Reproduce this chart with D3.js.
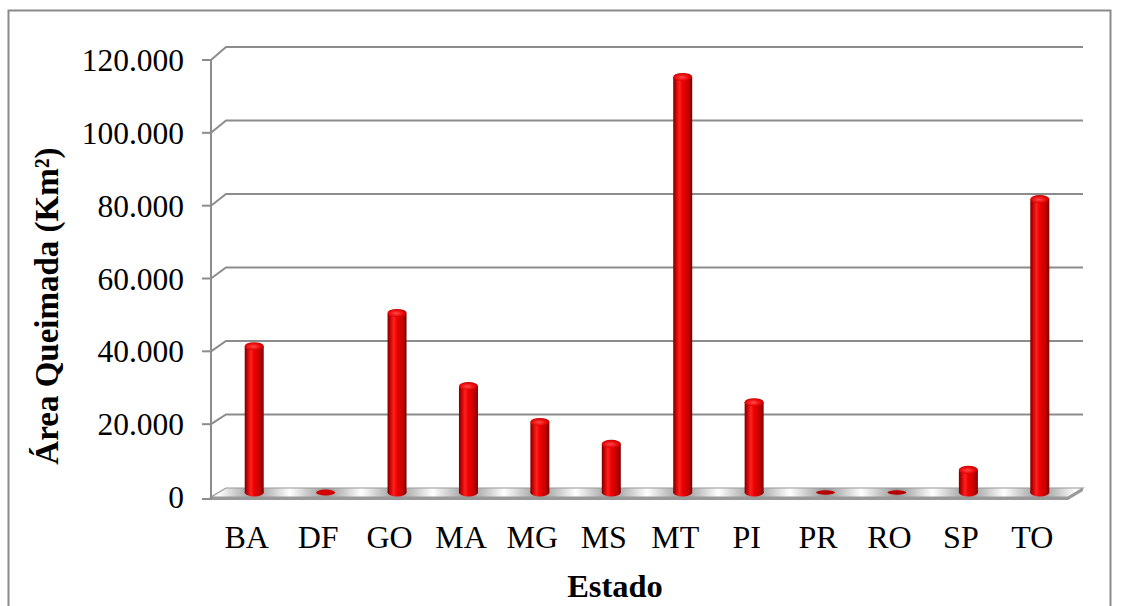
<!DOCTYPE html>
<html>
<head>
<meta charset="utf-8">
<script src="https://cdn.jsdelivr.net/npm/d3@7"></script>
<style>
  html, body { margin: 0; padding: 0; background: #fff; }
  svg { display: block; }
  text { font-family: "Liberation Serif", "Times New Roman", serif; fill: #000; }
</style>
</head>
<body>
<svg id="chart" width="1121" height="606"></svg>
<script>
// Burned area per state (km²)
const categories = ["BA", "DF", "GO", "MA", "MG", "MS", "MT", "PI", "PR", "RO", "SP", "TO"];
const areaKm2 = [40000, 600, 49100, 29100, 19300, 13300, 113600, 24700, 150, 150, 6200, 80200];
const yTicks = [0, 20000, 40000, 60000, 80000, 100000, 120000];
const yTitle = "Área Queimada (Km²)";
const xTitle = "Estado";

const ptBR = d3.formatLocale({ decimal: ",", thousands: ".", grouping: [3], currency: ["R$", ""] });
const fmt = ptBR.format(",d");

const svg = d3.select("#chart");
const defs = svg.append("defs");

// Outer chart frame
svg.append("rect")
  .attr("x", 8.5).attr("y", 10.5).attr("width", 1102).attr("height", 620)
  .attr("fill", "none").attr("stroke", "#8a8a8a").attr("stroke-width", 2);

// Pseudo-3D geometry: front plane and back wall
const depthX = 15;
const x = d3.scaleBand().domain(categories).range([211, 1068]).paddingInner(0).paddingOuter(0);
const yFront = d3.scaleLinear().domain([0, 120000]).range([497, 60]);
const yBack = d3.scaleLinear().domain([0, 120000]).range([488, 47]);
const yMid = v => (yFront(v) + yBack(v)) / 2;
const xLeft = x.range()[0], xRight = x.range()[1];

// Gridlines on the back wall with the diagonal run to the front axis
const grid = svg.append("g");
yTicks.filter(v => v > 0).forEach(v => {
  grid.append("polyline")
    .attr("points", [[xLeft, yFront(v)], [xLeft + depthX, yBack(v)], [xRight + depthX, yBack(v)]].map(p => p.join(",")).join(" "))
    .attr("fill", "none").attr("stroke", "#8c8c8c").attr("stroke-width", 2);
});

// Floor with a metallic sheen between the columns
const step = x.step();
const floorGrad = defs.append("linearGradient")
  .attr("id", "floorSheen").attr("gradientUnits", "userSpaceOnUse")
  .attr("spreadMethod", "repeat")
  .attr("x1", x(categories[0]) + step / 2 + depthX / 2).attr("y1", 0)
  .attr("x2", x(categories[0]) + step * 1.5 + depthX / 2).attr("y2", 0);
[[0, "#969696"], [0.25, "#c8c8c8"], [0.5, "#ffffff"], [0.75, "#c8c8c8"], [1, "#969696"]]
  .forEach(([o, c]) => floorGrad.append("stop").attr("offset", o).attr("stop-color", c));

const f0 = yFront(0), b0 = yBack(0), thick = 3;
svg.append("polygon")
  .attr("points", [[xLeft, f0], [xRight, f0], [xRight, f0 + thick], [xLeft, f0 + thick]].map(p => p.join(",")).join(" "))
  .attr("fill", "#999");
svg.append("polygon")
  .attr("points", [[xRight, f0], [xRight + depthX, b0], [xRight + depthX, b0 + thick], [xRight, f0 + thick]].map(p => p.join(",")).join(" "))
  .attr("fill", "#999");
svg.append("polygon")
  .attr("points", [[xLeft + depthX, b0], [xRight + depthX, b0], [xRight, f0], [xLeft, f0]].map(p => p.join(",")).join(" "))
  .attr("fill", "url(#floorSheen)").attr("stroke", "#999").attr("stroke-width", 1.2);

// Front vertical axis with ticks
svg.append("line")
  .attr("x1", xLeft).attr("x2", xLeft).attr("y1", yFront(120000)).attr("y2", f0 + 2)
  .attr("stroke", "#8c8c8c").attr("stroke-width", 2);
yTicks.forEach(v => {
  const yy = v === 0 ? f0 + 2 : yFront(v);
  svg.append("line").attr("x1", xLeft - 9).attr("x2", xLeft).attr("y1", yy).attr("y2", yy)
    .attr("stroke", "#8c8c8c").attr("stroke-width", 2);
  svg.append("text").attr("x", 184).attr("y", yFront(v)).attr("dy", "0.35em")
    .attr("text-anchor", "end").attr("font-size", 31.5).text(fmt(v));
});

// Cylinder shading
const bodyGrad = defs.append("linearGradient").attr("id", "cylBody").attr("x1", 0).attr("x2", 1).attr("y1", 0).attr("y2", 0);
[[0, "#7c0000"], [0.12, "#c00000"], [0.32, "#ff2020"], [0.5, "#ee0000"], [0.8, "#c20000"], [1, "#7a0000"]]
  .forEach(([o, c]) => bodyGrad.append("stop").attr("offset", o).attr("stop-color", c));
const capGrad = defs.append("radialGradient").attr("id", "cylCap").attr("cx", 0.45).attr("cy", 0.55).attr("r", 0.6);
[[0, "#ff4a4a"], [0.6, "#ee0a0a"], [1, "#b00000"]]
  .forEach(([o, c]) => capGrad.append("stop").attr("offset", o).attr("stop-color", c));

const barW = 19, rx = barW / 2, ry = 4;
const bars = svg.append("g");
categories.forEach((c, i) => {
  const v = areaKm2[i];
  const cx = x(c) + step / 2 + depthX / 2;
  const base = yMid(0);
  const top = yMid(v);
  const g = bars.append("g");
  if (base - top < 6) {
    // Near-zero values show only as a flat disc on the floor
    g.append("ellipse").attr("cx", cx).attr("cy", base).attr("rx", rx).attr("ry", v > 400 ? 3 : 2.2)
      .attr("fill", v > 400 ? "#d40000" : "#b80000");
    return;
  }
  g.append("ellipse").attr("cx", cx).attr("cy", base).attr("rx", rx).attr("ry", ry).attr("fill", "url(#cylBody)");
  g.append("rect").attr("x", cx - rx).attr("y", top).attr("width", barW).attr("height", base - top)
    .attr("fill", "url(#cylBody)");
  g.append("ellipse").attr("cx", cx).attr("cy", top).attr("rx", rx).attr("ry", ry).attr("fill", "url(#cylCap)");
});

// Category labels on the front plane
categories.forEach(c => {
  svg.append("text").attr("x", x(c) + step / 2).attr("y", 548)
    .attr("text-anchor", "middle").attr("font-size", 32).text(c);
});

// Axis titles
svg.append("text").attr("x", 615).attr("y", 597).attr("text-anchor", "middle")
  .attr("font-size", 32.5).attr("font-weight", "bold").text(xTitle);
svg.append("text").attr("transform", "translate(46,306) rotate(-90)")
  .attr("text-anchor", "middle").attr("dy", "0.35em")
  .attr("font-size", 33).attr("font-weight", "bold").text(yTitle);
</script>
</body>
</html>
